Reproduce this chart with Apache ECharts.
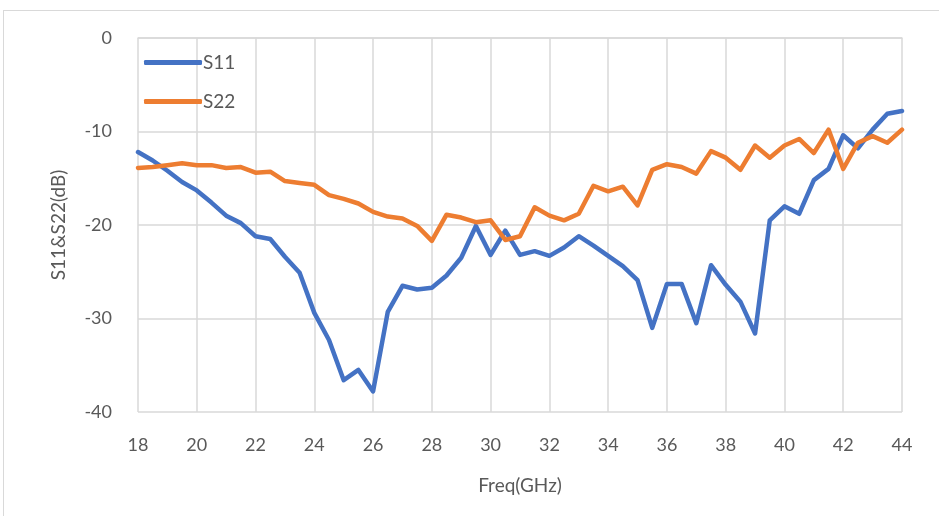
<!DOCTYPE html>
<html>
<head>
<meta charset="utf-8">
<script src="https://cdn.jsdelivr.net/npm/echarts@6/dist/echarts.min.js"></script>
<style>
  html, body { margin: 0; padding: 0; background: #fff; }
  #main { position: absolute; left: 3px; top: 10px; width: 940px; height: 510px; border: 1.5px solid #d9d9d9; box-sizing: border-box; }
</style>
</head>
<body>
<div id="main"></div>
<script>
// 频率 (GHz), 步长 0.5
var freq = [18, 18.5, 19, 19.5, 20, 20.5, 21, 21.5, 22, 22.5, 23, 23.5, 24, 24.5, 25, 25.5, 26, 26.5,
  27, 27.5, 28, 28.5, 29, 29.5, 30, 30.5, 31, 31.5, 32, 32.5, 33, 33.5, 34, 34.5, 35, 35.5,
  36, 36.5, 37, 37.5, 38, 38.5, 39, 39.5, 40, 40.5, 41, 41.5, 42, 42.5, 43, 43.5, 44];

var s11 = [-12.2, -13.1, -14.2, -15.4, -16.3, -17.6, -19.0, -19.8, -21.2, -21.5, -23.4, -25.1, -29.4, -32.3, -36.6, -35.5, -37.8, -29.3,
  -26.5, -26.9, -26.7, -25.4, -23.5, -20.1, -23.2, -20.6, -23.2, -22.8, -23.3, -22.4, -21.2, -22.2, -23.3, -24.4, -25.9, -31.0,
  -26.3, -26.3, -30.5, -24.3, -26.4, -28.2, -31.6, -19.5, -18.0, -18.8, -15.2, -14.0, -10.4, -11.8, -9.8, -8.1, -7.8];

var s22 = [-13.9, -13.8, -13.6, -13.4, -13.6, -13.6, -13.9, -13.8, -14.4, -14.3, -15.3, -15.5, -15.7, -16.8, -17.2, -17.7, -18.6, -19.1,
  -19.3, -20.1, -21.7, -18.9, -19.2, -19.7, -19.5, -21.6, -21.2, -18.1, -19.0, -19.5, -18.8, -15.8, -16.4, -15.9, -17.9, -14.1,
  -13.5, -13.8, -14.5, -12.1, -12.8, -14.1, -11.5, -12.8, -11.5, -10.8, -12.3, -9.8, -14.0, -11.2, -10.5, -11.2, -9.8];

function pairs(ys) {
  return freq.map(function (f, i) { return [f, ys[i]]; });
}

var chart = echarts.init(document.getElementById('main'), null, { renderer: 'canvas' });
var font = 'Lato, "Open Sans", sans-serif';
var gridColor = '#d9d9d9';

var option = {
  animation: false,
  textStyle: { fontFamily: font },
  color: ['#4472C4', '#ED7D31'],
  grid: { left: 134, right: 40, top: 27, bottom: 107 },
  legend: {
    orient: 'vertical',
    left: 135,
    top: 37,
    itemGap: 20,
    itemWidth: 58,
    itemHeight: 5,
    icon: 'roundRect',
    textStyle: { fontSize: 19, color: '#595959', fontFamily: font, padding: [0, 0, 0, -4] },
    data: ['S11', 'S22']
  },
  xAxis: {
    type: 'value',
    min: 18,
    max: 44,
    interval: 2,
    name: 'Freq(GHz)',
    nameLocation: 'middle',
    nameGap: 64,
    nameTextStyle: { fontSize: 19, color: '#595959' },
    axisLine: { show: true, lineStyle: { color: gridColor, width: 1.5 } },
    axisTick: { show: false },
    axisLabel: { fontSize: 18, color: '#595959', margin: 24 },
    splitLine: { show: true, lineStyle: { color: gridColor, width: 1.5 } }
  },
  yAxis: {
    type: 'value',
    min: -40,
    max: 0,
    interval: 10,
    name: 'S11&S22(dB)',
    nameLocation: 'middle',
    nameGap: 70,
    nameTextStyle: { fontSize: 19, color: '#595959' },
    axisLine: { show: false },
    axisTick: { show: false },
    axisLabel: { fontSize: 18, color: '#595959', margin: 26 },
    splitLine: { show: true, lineStyle: { color: gridColor, width: 1.5 } }
  },
  series: [
    {
      name: 'S11',
      type: 'line',
      symbol: 'none',
      lineStyle: { width: 4.5, cap: 'round', join: 'round' },
      data: pairs(s11)
    },
    {
      name: 'S22',
      type: 'line',
      symbol: 'none',
      lineStyle: { width: 4.5, cap: 'round', join: 'round' },
      data: pairs(s22)
    }
  ]
};

chart.setOption(option);
</script>
</body>
</html>
